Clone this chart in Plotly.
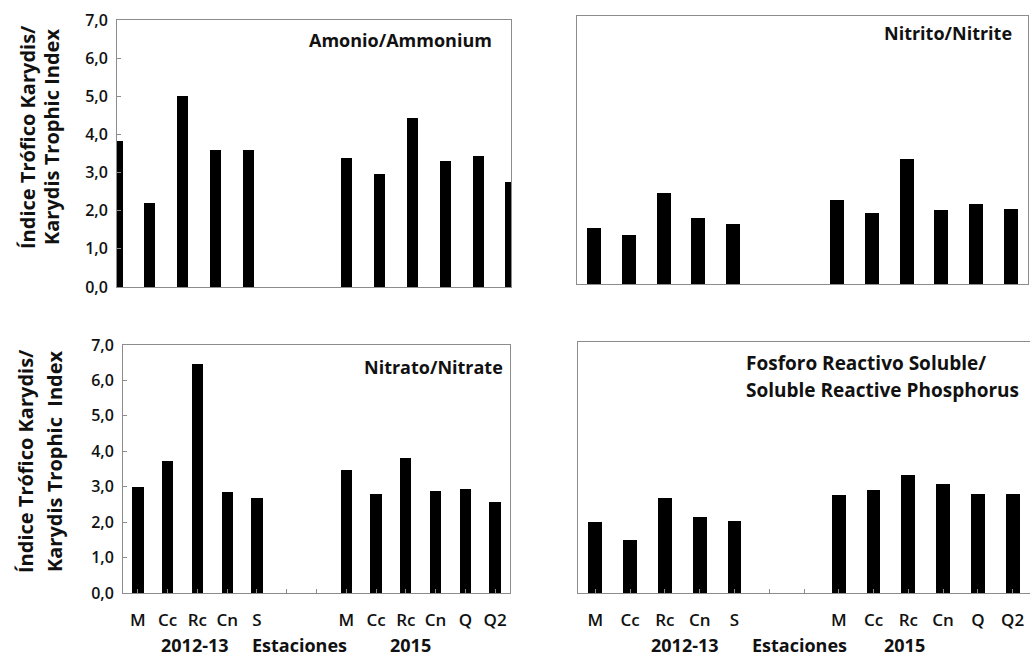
import plotly.graph_objects as go

stations = ["M", "Cc", "Rc", "Cn", "S", "", "", "M", "Cc", "Rc", "Cn", "Q", "Q2"]
amonio = [3.82, 2.20, 5.00, 3.58, 3.58, None, None, 3.39, 2.96, 4.42, 3.30, 3.43, 2.76]
nitrito = [1.47, 1.28, 2.38, 1.72, 1.56, None, None, 2.19, 1.86, 3.26, 1.93, 2.08, 1.97]
nitrato = [2.99, 3.72, 6.47, 2.86, 2.68, None, None, 3.48, 2.79, 3.80, 2.89, 2.94, 2.58]
fosforo = [1.97, 1.48, 2.66, 2.11, 2.01, None, None, 2.72, 2.88, 3.29, 3.04, 2.77, 2.77]
yticks = [0, 1, 2, 3, 4, 5, 6, 7]
ytitle_top = ["Índice Trófico Karydis/", "Karydis Trophic Index"]
ytitle_bot = ["Índice Trófico Karydis/", "Karydis Trophic  Index"]
group_labels = ["2012-13", "Estaciones", "2015"]

W, H = 1030, 656
FONT = "Open Sans"
GRAY = "#8c8c8c"
idx = list(range(len(stations)))

def px(x):
    return x / W

def py(y):
    return 1 - y / H

fig = go.Figure()

panels = [
    (amonio, "", 0.34, (117, 511, 20, 287), [0, 12]),
    (nitrito, "2", 0.40, (577, 1028, 16, 284), [-0.5, 12.5]),
    (nitrato, "3", 0.38, (123, 510, 345, 593), [-0.5, 12.5]),
    (fosforo, "4", 0.40, (578, 1032, 342, 593), [-0.5, 12.5]),
]

layout_axes = {}
for i, (vals, s, bw, (x0, x1, yt, yb), xr) in enumerate(panels):
    fig.add_trace(go.Bar(
        x=idx, y=vals, width=bw, marker=dict(color="black", line=dict(width=0)),
        xaxis="x" + s, yaxis="y" + s, showlegend=False, hoverinfo="skip",
    ))
    bottom = i >= 2
    left = i % 2 == 0
    layout_axes["xaxis" + s] = dict(
        domain=[px(x0), min(px(x1), 1)], range=xr, anchor="y" + s,
        automargin=False,
        showline=True, linecolor=GRAY, linewidth=1, mirror=True,
        showgrid=False, zeroline=False,
        tickmode="array", tickvals=idx, ticktext=stations,
        showticklabels=bottom, ticks="inside" if bottom else "", ticklen=4,
        tickcolor=GRAY, ticklabelstandoff=12,
        tickfont=dict(family=FONT, size=17, color="#111", weight=600),
    )
    layout_axes["yaxis" + s] = dict(
        domain=[py(yb), py(yt)], range=[0, 7], anchor="x" + s,
        automargin=False,
        showline=True, linecolor=GRAY, linewidth=1, mirror=True,
        showgrid=False, zeroline=False,
        tickmode="array", tickvals=yticks, tickformat=".1f",
        showticklabels=left, ticks="inside" if left else "", ticklen=4,
        tickcolor=GRAY, ticklabelstandoff=5,
        tickfont=dict(family=FONT, size=16, color="#111", weight=600),
    )

fig.update_layout(**layout_axes)

ann = []
def text(x, y, t, size, xanchor="center", yanchor="middle", **kw):
    ann.append(dict(x=px(x), y=py(y), xref="paper", yref="paper", text=t,
                    showarrow=False, xanchor=xanchor, yanchor=yanchor,
                    font=dict(family=FONT, size=size, color="#111",
                              weight="bold"), **kw))

# panel titles
text(494, 40, "Amonio/Ammonium", 18, xanchor="right")
text(1014, 33, "Nitrito/Nitrite", 18, xanchor="right")
text(505, 367, "Nitrato/Nitrate", 18, xanchor="right")
text(744, 363, "Fosforo Reactivo Soluble/", 19, xanchor="left")
text(744, 390, "Soluble Reactive Phosphorus", 19, xanchor="left")

# y-axis titles (two lines each)
for xc, line in zip([27, 51], ytitle_top):
    text(xc, 137, line, 20, textangle=-90)
for xc, line in zip([25, 54], ytitle_bot):
    text(xc, 461, line, 20, textangle=-90)

# group labels below x axis
for xs in ([195, 299, 410], [685, 799, 904]):
    for xc, lab in zip(xs, group_labels):
        text(xc, 645, lab, 18)

fig.update_layout(
    width=W, height=H, margin=dict(l=0, r=0, t=0, b=0, autoexpand=False),
    paper_bgcolor="white", plot_bgcolor="white",
    separators=",.", bargap=0, annotations=ann,
    font=dict(family=FONT),
)

fig.write_html("out.html")
